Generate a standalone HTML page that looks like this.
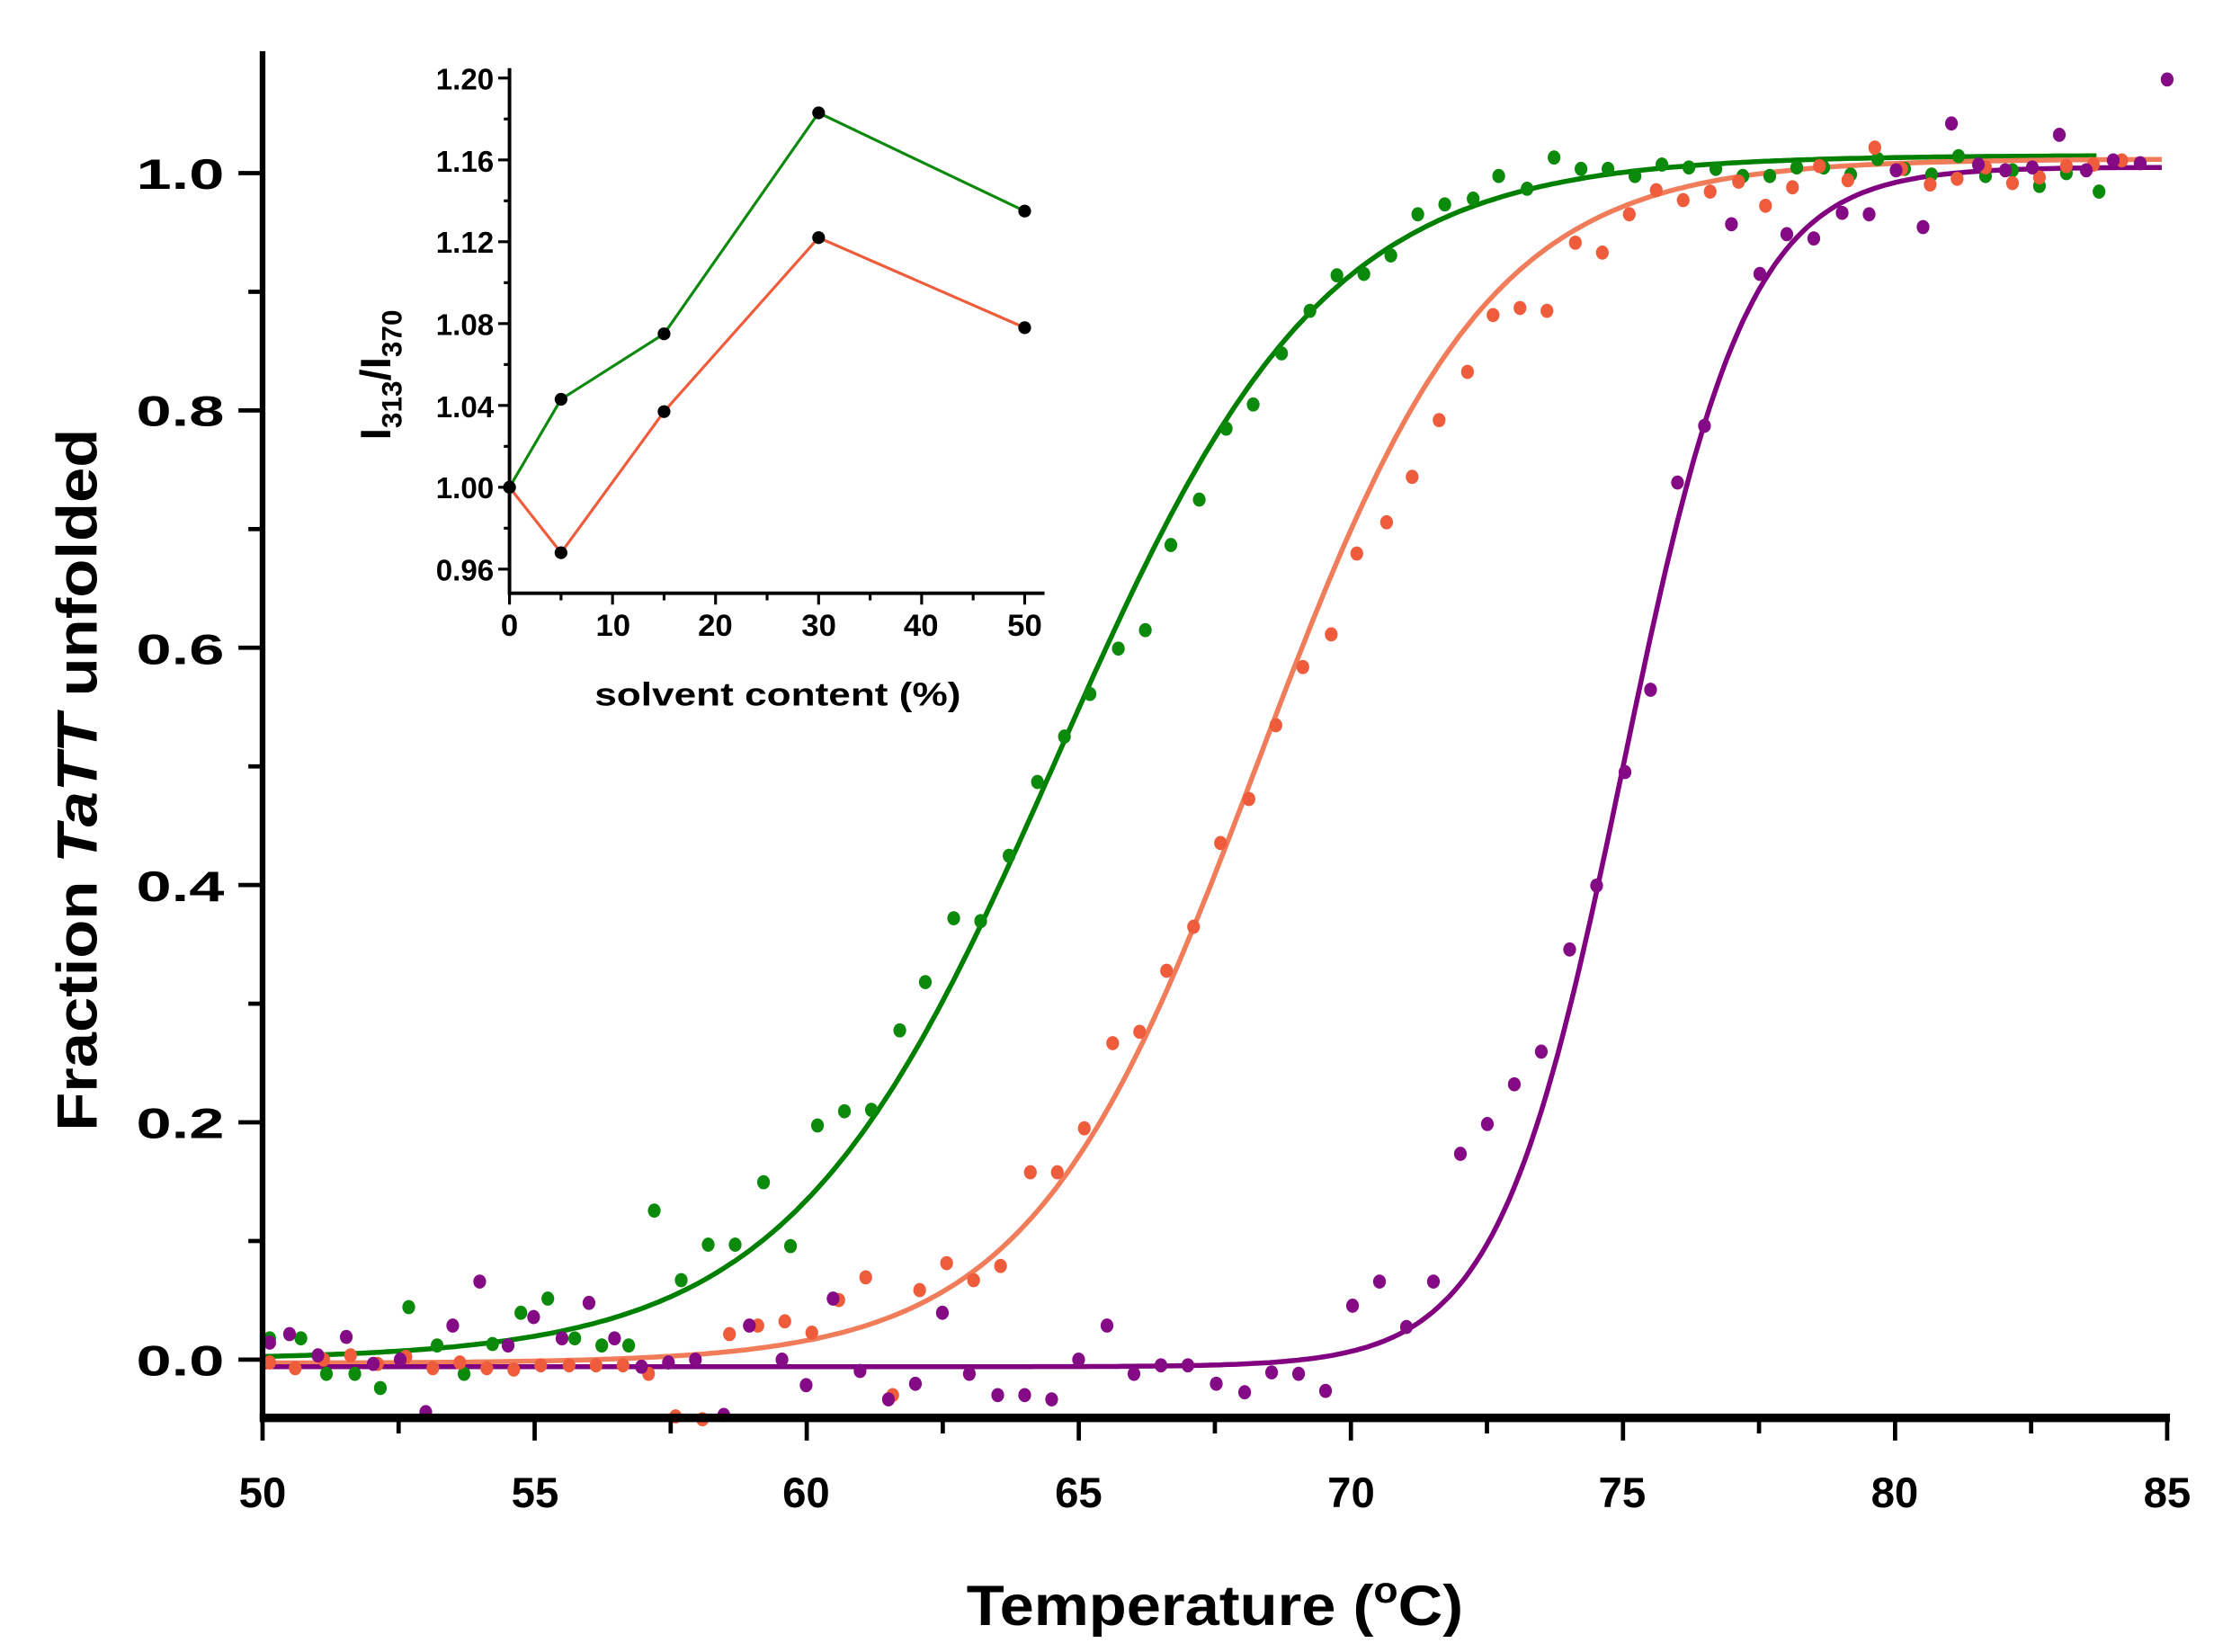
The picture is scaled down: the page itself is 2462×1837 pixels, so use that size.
<!DOCTYPE html>
<html><head><meta charset="utf-8">
<style>html,body{margin:0;padding:0;background:#fff}svg{display:block}</style>
</head><body>
<svg id="s" xmlns="http://www.w3.org/2000/svg" width="2462" height="1837" viewBox="0 0 1560 1164" preserveAspectRatio="none" font-family="Liberation Sans, Arial, sans-serif">
<rect width="1560" height="1164" fill="#fff"/>
<g id="curves"></g>
<g id="dots"></g>
<!-- main axes -->
<g stroke="#000" fill="none">
<line x1="185" y1="36" x2="185" y2="1001" stroke-width="4"/>
<line x1="183" y1="999" x2="1529" y2="999" stroke-width="6"/>
</g>
<g id="ticks" stroke="#000" stroke-width="3"></g>
<g font-weight="bold" font-size="30" text-anchor="end" fill="#000">
<text x="158" y="969" textLength="62" lengthAdjust="spacingAndGlyphs">0.0</text>
<text x="158" y="802" textLength="62" lengthAdjust="spacingAndGlyphs">0.2</text>
<text x="158" y="635" textLength="62" lengthAdjust="spacingAndGlyphs">0.4</text>
<text x="158" y="468" textLength="62" lengthAdjust="spacingAndGlyphs">0.6</text>
<text x="158" y="300" textLength="62" lengthAdjust="spacingAndGlyphs">0.8</text>
<text x="158" y="133" textLength="62" lengthAdjust="spacingAndGlyphs">1.0</text>
</g>
<g font-weight="bold" font-size="30" text-anchor="middle" fill="#000">
<text x="185" y="1062">50</text><text x="377" y="1062">55</text><text x="568" y="1062">60</text><text x="760" y="1062">65</text>
<text x="952" y="1062">70</text><text x="1143" y="1062">75</text><text x="1335" y="1062">80</text><text x="1527" y="1062">85</text>
</g>
<text x="681" y="1145" font-weight="bold" font-size="40" textLength="350" lengthAdjust="spacingAndGlyphs">Temperature (<tspan font-size="26" dy="-16">o</tspan><tspan dy="16">C)</tspan></text>
<text transform="translate(68,797) rotate(-90)" font-weight="bold" font-size="40" textLength="495" lengthAdjust="spacingAndGlyphs">Fraction <tspan font-style="italic">TaTT</tspan> unfolded</text>

<!-- inset -->
<g stroke="#000" fill="none" stroke-width="2.5">
<line x1="359" y1="48" x2="359" y2="419"/>
<line x1="358" y1="418" x2="736" y2="418"/>
</g>
<g id="iticks" stroke="#000" stroke-width="2"></g>
<g font-weight="bold" font-size="21" text-anchor="end" fill="#000">
<text x="348" y="63">1.20</text><text x="348" y="121">1.16</text><text x="348" y="178">1.12</text>
<text x="348" y="236">1.08</text><text x="348" y="294">1.04</text><text x="348" y="351">1.00</text><text x="348" y="409">0.96</text>
</g>
<g font-weight="bold" font-size="22" text-anchor="middle" fill="#000">
<text x="359" y="448">0</text><text x="432" y="448">10</text><text x="504" y="448">20</text><text x="577" y="448">30</text><text x="649" y="448">40</text><text x="722" y="448">50</text>
</g>
<text x="419" y="497" font-weight="bold" font-size="23" textLength="258" lengthAdjust="spacingAndGlyphs">solvent content (%)</text>
<text transform="translate(275,310) rotate(-90)" font-weight="bold" font-size="30">I<tspan font-size="20" dy="8">313</tspan><tspan dy="-8">/I</tspan><tspan font-size="20" dy="8">370</tspan></text>
<g id="inset"></g>
</svg>
<script>
var NS="http://www.w3.org/2000/svg";
function el(p,t,a){var e=document.createElementNS(NS,t);for(var k in a)e.setAttribute(k,a[k]);document.getElementById(p).appendChild(e);return e;}
function X(T){return 185+(T-50)*38.343;}function Y(v){return 958-v*836;}
for(var v=0;v<=1.0001;v+=0.1){var maj=Math.round(v*10)%2==0;el("ticks","line",{x1:maj?168:175,x2:185,y1:Y(v),y2:Y(v)});}
for(var T=50;T<=85.01;T+=2.5){var maj=Math.round(T*2)%10==0;el("ticks","line",{x1:X(T),x2:X(T),y1:1000,y2:maj?1015:1010});}
var C=[["#008000",64.6,2.45,1.015,0,1480],["#f07c5a",68.3,2.1,1.012,-0.003,1527],["#800080",75.0,1.15,1.005,-0.006,1527]];
C.forEach(function(c){var d="";for(var T=50;X(T)<=c[5];T+=0.1){var f=c[4]+(c[3]-c[4])/(1+Math.exp(-(T-c[1])/c[2]));d+=(d?"L":"M")+X(T).toFixed(1)+","+Y(f).toFixed(1);}el("curves","path",{d:d,fill:"none",stroke:c[0],"stroke-width":3.5});});
var G=[[190,943],[212,943],[230,968],[250,968],[268,978],[288,921],[308,948],[327,968],[347,947],[367,925],[386,915],[405,943],[424,948],[443,948],[461,853],[480,902],[499,877],[518,877],[538,833],[557,878],[576,793],[595,783],[614,782],[634,726],[652,692],[672,647],[691,649],[711,603],[731,551],[750,519],[768,489],[788,457],[807,444],[825,384],[845,352],[864,302],[883,285],[903,249],[923,219],[942,194],[961,193],[980,180],[999,151],[1018,144],[1038,140],[1056,124],[1076,133],[1095,111],[1114,119],[1133,119],[1152,124],[1171,116],[1190,118],[1209,119],[1228,124],[1247,124],[1266,118],[1285,118],[1304,123],[1323,112],[1342,119],[1361,123],[1380,110],[1399,124],[1418,120],[1437,131],[1456,122],[1479,135]];
var O=[[190,960],[208,964],[228,958],[247,955],[266,961],[286,956],[305,964],[324,960],[343,964],[362,965],[381,962],[401,962],[420,962],[439,962],[457,968],[476,998],[495,1000],[514,940],[534,934],[553,931],[572,939],[591,916],[610,900],[629,983],[648,909],[667,890],[686,902],[705,892],[726,826],[745,826],[764,795],[784,735],[803,727],[822,684],[841,653],[860,594],[880,563],[899,511],[918,470],[938,447],[956,390],[977,368],[995,336],[1014,296],[1034,262],[1052,222],[1071,217],[1090,219],[1110,171],[1129,178],[1148,151],[1167,134],[1186,141],[1205,135],[1225,128],[1244,145],[1263,132],[1282,117],[1302,127],[1321,104],[1340,119],[1360,130],[1379,126],[1399,118],[1418,129],[1437,125],[1456,117],[1475,116],[1495,113]];
var P=[[190,946],[204,940],[224,955],[244,942],[263,961],[282,958],[300,995],[319,934],[338,903],[358,948],[376,928],[396,943],[415,918],[433,943],[452,963],[471,960],[490,958],[510,997],[528,934],[551,958],[568,976],[587,915],[606,966],[626,986],[645,975],[664,925],[683,968],[703,983],[722,983],[741,986],[760,958],[780,934],[799,968],[818,962],[837,962],[857,975],[877,981],[896,967],[915,968],[934,980],[953,920],[972,903],[991,935],[1010,903],[1029,813],[1048,792],[1067,764],[1086,741],[1106,669],[1125,624],[1145,544],[1163,486],[1182,340],[1201,300],[1220,158],[1240,193],[1259,165],[1278,168],[1298,150],[1317,151],[1336,120],[1355,160],[1375,87],[1394,116],[1413,120],[1432,118],[1451,95],[1470,120],[1489,113],[1508,115],[1527,56]];
[[G,"#0b8a0b"],[O,"#ee5c3c"],[P,"#850a85"]].forEach(function(s){s[0].forEach(function(p){el("dots","ellipse",{cx:p[0],cy:p[1],rx:4.5,ry:5,fill:s[1]});});});
function IX(v){return 359+v*7.26;}function IY(v){return 55+(1.20-v)*1441.7;}
for(var v=0.96;v<=1.2001;v+=0.02){var maj=Math.round(v*100)%4==0;el("iticks","line",{x1:maj?351:355,x2:359,y1:IY(v),y2:IY(v)});}
for(var v=0;v<=50;v+=5){var maj=v%10==0;el("iticks","line",{x1:IX(v),x2:IX(v),y1:418,y2:maj?426:423});}
var IS=[["#0d8a0d",[[0,1.0],[5,1.043],[15,1.075],[30,1.183],[50,1.135]]],["#ee5c3c",[[0,1.0],[5,0.968],[15,1.037],[30,1.122],[50,1.078]]]];
IS.forEach(function(s){var d="";s[1].forEach(function(p){d+=(d?"L":"M")+IX(p[0])+","+IY(p[1]);});el("inset","path",{d:d,fill:"none",stroke:s[0],"stroke-width":2});});
IS.forEach(function(s){s[1].forEach(function(p){el("inset","circle",{cx:IX(p[0]),cy:IY(p[1]),r:4.5,fill:"#000"});});});
</script>
</body></html>
